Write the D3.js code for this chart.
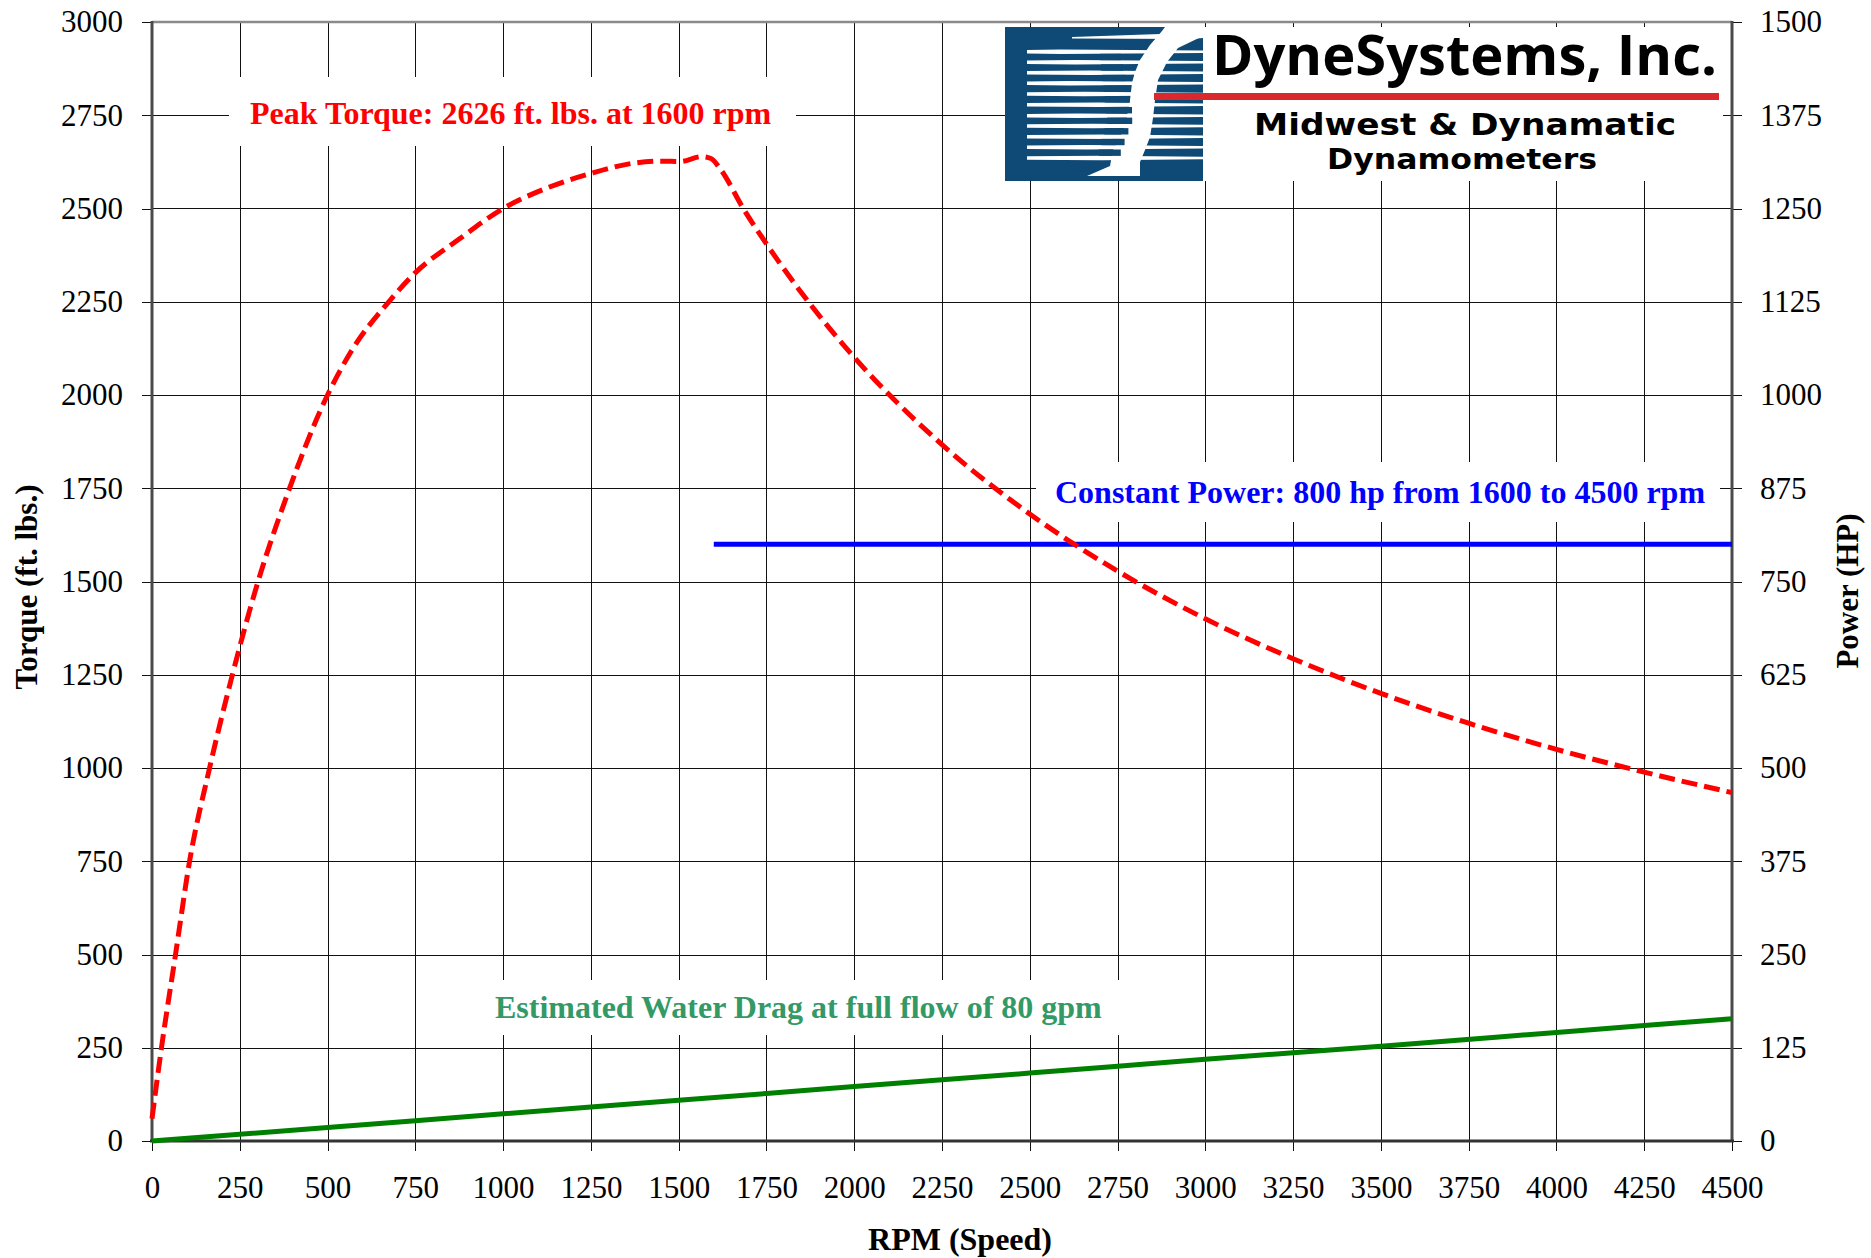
<!DOCTYPE html>
<html>
<head>
<meta charset="utf-8">
<script src="https://cdn.jsdelivr.net/npm/d3@7/dist/d3.min.js"></script>
<style>
  html, body { margin: 0; padding: 0; background: #fff; }
  svg { display: block; }
</style>
</head>
<body>
<svg id="chart" width="1871" height="1258"></svg>
<script>
// ---------------- DATA ----------------
const rpmTicks = [0,250,500,750,1000,1250,1500,1750,2000,2250,2500,2750,3000,3250,3500,3750,4000,4250,4500];
const torqueTicks = [0,250,500,750,1000,1250,1500,1750,2000,2250,2500,2750,3000];
const powerTicks = [0,125,250,375,500,625,750,875,1000,1125,1250,1375,1500];

// Peak torque curve (red dashed)
const torqueRpm    = [0, 27, 67, 107, 164, 229, 302, 383, 500, 564, 678, 748, 875, 1000, 1125, 1250, 1375, 1450, 1505, 1565, 1592, 1620, 1684, 1750, 1875, 2000, 2250, 2500, 2750, 3000, 3250, 3500, 3750, 4000, 4250, 4500];
const torqueValues = [60, 250, 500, 750, 1000, 1250, 1500, 1727, 2000, 2112, 2254, 2326, 2418, 2500, 2555, 2594, 2622, 2627, 2626, 2639, 2634, 2604, 2500, 2405, 2243, 2101, 1867, 1681, 1528, 1400, 1293, 1200, 1120, 1050, 989, 934];

// Estimated water drag (green), torque units
const dragRpm    = [0, 500, 1000, 1500, 2000, 2500, 3000, 3500, 4000, 4500];
const dragValues = [0, 36, 73, 109, 146, 182, 219, 254, 291, 328];

// Constant power (blue), HP on right axis
const constPowerRpm = [1600, 4500];
const constPowerHp  = [800, 800];

const labels = {
  peak: "Peak Torque: 2626 ft. lbs. at 1600 rpm",
  power: "Constant Power: 800 hp from 1600 to 4500 rpm",
  drag: "Estimated Water Drag at full flow of 80 gpm",
  xTitle: "RPM (Speed)",
  yLeftTitle: "Torque (ft. lbs.)",
  yRightTitle: "Power (HP)"
};

// ---------------- LAYOUT ----------------
const L = 152, R = 1732, T = 22, B = 1141;
const serif = "'Liberation Serif', 'Times New Roman', serif";
const sans = "'Open Sans', 'DejaVu Sans', sans-serif";
const wideSans = "'DejaVu Sans', 'Open Sans', sans-serif";

const svg = d3.select("#chart");
svg.append("rect").attr("width", 1871).attr("height", 1258).attr("fill", "#fff");

const x  = d3.scaleLinear().domain([0, 4500]).range([L, R]);
const yT = d3.scaleLinear().domain([0, 3000]).range([B, T]);
const yP = d3.scaleLinear().domain([0, 1500]).range([B, T]);

// ---- gridlines ----
const grid = svg.append("g").attr("shape-rendering", "crispEdges");
grid.selectAll("line.v").data(rpmTicks.filter(d => d > 0 && d < 4500)).join("line")
  .attr("x1", d => Math.round(x(d)) + 0.5).attr("x2", d => Math.round(x(d)) + 0.5)
  .attr("y1", T).attr("y2", B)
  .attr("stroke", "#111").attr("stroke-width", 1);
grid.selectAll("line.h").data(torqueTicks.filter(d => d > 0 && d < 3000)).join("line")
  .attr("x1", L).attr("x2", R)
  .attr("y1", d => Math.round(yT(d)) + 0.5).attr("y2", d => Math.round(yT(d)) + 0.5)
  .attr("stroke", "#111").attr("stroke-width", 1);

// ---- axes ----
function styleAxis(g) {
  g.select(".domain").remove();
  g.selectAll(".tick line").attr("stroke", "#111").attr("stroke-width", 1).attr("shape-rendering", "crispEdges");
  g.selectAll(".tick text").attr("font-family", serif).attr("font-size", 31).attr("fill", "#000");
}
svg.append("g").attr("transform", `translate(${L},0)`)
  .call(d3.axisLeft(yT).tickValues(torqueTicks).tickSize(10).tickPadding(19).tickFormat(d3.format("d")))
  .call(styleAxis);
svg.append("g").attr("transform", `translate(${R},0)`)
  .call(d3.axisRight(yP).tickValues(powerTicks).tickSize(10).tickPadding(18).tickFormat(d3.format("d")))
  .call(styleAxis);
svg.append("g").attr("transform", `translate(0,${B})`)
  .call(d3.axisBottom(x).tickValues(rpmTicks).tickSize(10).tickPadding(25).tickFormat(d3.format("d")))
  .call(styleAxis);

// ---- annotation boxes (white, interrupt grid) ----
const boxes = [
  {x0: 229, x1: 796, y0: 77, y1: 146},
  {x0: 1036, x1: 1720, y0: 462, y1: 522},
  {x0: 476, x1: 1124, y0: 980, y1: 1035}
];
svg.append("g").selectAll("rect").data(boxes).join("rect")
  .attr("x", d => d.x0).attr("y", d => d.y0)
  .attr("width", d => d.x1 - d.x0).attr("height", d => d.y1 - d.y0)
  .attr("fill", "#fff");

// ---- logo ----
const logo = svg.append("g");
logo.append("rect").attr("x", 1005).attr("y", 27).attr("width", 718).attr("height", 154).attr("fill", "#fff");
logo.append("rect").attr("x", 1005).attr("y", 27).attr("width", 198).attr("height", 154).attr("fill", "#0f4a76");
const streakRows = [51.7, 62.3, 72.7, 83.3, 94, 104.7, 115.7, 126, 136.7, 147.3, 158];
logo.selectAll("path.streak").data(streakRows).join("path")
  .attr("d", (d, i) => {
    const xs = 1027, xe = 1203;
    const mid = 1060 + (i % 3) * 12 + i * 3;
    return `M${xs},${d - 1.8} L${mid},${d - 2.2} L${xe},${d - 1.2} L${xe},${d + 1.2} L${mid},${d + 2.2} L${xs},${d + 1.8} Z`;
  })
  .attr("fill", "#fff");
logo.append("path")
  .attr("d", "M1072,37 L1190,33 L1203,31 L1203,38 L1190,39 L1072,38.5 Z")
  .attr("fill", "#fff");
logo.append("path")
  .attr("d", "M1165,27 L1203,27 L1203,36 L1178,48 L1167,62 L1158,80 L1155,100 L1153,118 L1150,137 L1145,150 L1140,162 L1140,176 L1087,176 L1110,166 L1113,150 L1120,137 L1125,126 L1127,116 L1130,100 L1132,83 L1135,72 L1140,60 L1150,45 L1162,31 Z")
  .attr("fill", "#fff");
const blockRows = [57, 67.5, 78, 88.7, 99.3, 110.2, 120.8, 131.3, 142, 152.7];
logo.selectAll("rect.blk").data(blockRows).join("rect")
  .attr("x", (d, i) => 1100 + i * 1.2 - (i > 6 ? (i - 6) * 4 : 0))
  .attr("y", d => d - 3.2)
  .attr("width", (d, i) => 26 - Math.abs(i - 5))
  .attr("height", 6.4)
  .attr("fill", "#0f4a76");
logo.append("text").attr("x", 1212).attr("y", 75)
  .attr("font-family", sans).attr("font-weight", 700)
  .attr("font-size", 56).attr("textLength", 505).attr("lengthAdjust", "spacingAndGlyphs")
  .attr("fill", "#000").text("DyneSystems, Inc.");
logo.append("rect").attr("x", 1154).attr("y", 93).attr("width", 565).attr("height", 7).attr("fill", "#d9282e");
logo.append("text").attr("x", 1254).attr("y", 135)
  .attr("font-family", wideSans).attr("font-weight", 700).attr("font-size", 31)
  .attr("textLength", 422).attr("lengthAdjust", "spacingAndGlyphs")
  .attr("fill", "#000").text("Midwest & Dynamatic");
logo.append("text").attr("x", 1327).attr("y", 169)
  .attr("font-family", wideSans).attr("font-weight", 700).attr("font-size", 28)
  .attr("textLength", 270).attr("lengthAdjust", "spacingAndGlyphs")
  .attr("fill", "#000").text("Dynamometers");

// ---- axis frame lines ----
const frame = svg.append("g");
frame.append("line").attr("x1", L).attr("x2", R).attr("y1", T).attr("y2", T).attr("stroke", "#8a8a8a").attr("stroke-width", 2.5);
frame.append("line").attr("x1", L).attr("x2", L).attr("y1", T - 1).attr("y2", B + 1).attr("stroke", "#4a4a4a").attr("stroke-width", 3);
frame.append("line").attr("x1", R).attr("x2", R).attr("y1", T - 1).attr("y2", B + 1).attr("stroke", "#4a4a4a").attr("stroke-width", 3);
frame.append("line").attr("x1", L - 2).attr("x2", R + 2).attr("y1", B).attr("y2", B).attr("stroke", "#333").attr("stroke-width", 3);

// ---- series ----
const torqueData = torqueRpm.map((r, i) => ({r, v: torqueValues[i]}));
const dragData = dragRpm.map((r, i) => ({r, v: dragValues[i]}));
const powerData = constPowerRpm.map((r, i) => ({r, v: constPowerHp[i]}));

svg.append("path").datum(dragData)
  .attr("d", d3.line().x(d => x(d.r)).y(d => yT(d.v)).curve(d3.curveMonotoneX))
  .attr("fill", "none").attr("stroke", "#008000").attr("stroke-width", 5);

svg.append("path").datum(powerData)
  .attr("d", d3.line().x(d => x(d.r)).y(d => yP(d.v)))
  .attr("fill", "none").attr("stroke", "#0000ff").attr("stroke-width", 5);

svg.append("path").datum(torqueData)
  .attr("d", d3.line().x(d => x(d.r)).y(d => yT(d.v)).curve(d3.curveMonotoneX))
  .attr("fill", "none").attr("stroke", "#ff0000").attr("stroke-width", 5)
  .attr("stroke-dasharray", "16,7");

// ---- annotation texts ----
svg.append("text").attr("x", 250).attr("y", 124)
  .attr("font-family", serif).attr("font-weight", "bold").attr("font-size", 32)
  .attr("fill", "#ff0000").text(labels.peak);
svg.append("text").attr("x", 1055).attr("y", 503)
  .attr("font-family", serif).attr("font-weight", "bold").attr("font-size", 32)
  .attr("fill", "#0000ff").text(labels.power);
svg.append("text").attr("x", 495).attr("y", 1018)
  .attr("font-family", serif).attr("font-weight", "bold").attr("font-size", 32)
  .attr("fill", "#339966").text(labels.drag);

// ---- axis titles ----
svg.append("text").attr("x", 960).attr("y", 1250).attr("text-anchor", "middle")
  .attr("font-family", serif).attr("font-weight", "bold").attr("font-size", 32)
  .attr("fill", "#000").text(labels.xTitle);
svg.append("text").attr("transform", "translate(37,587) rotate(-90)").attr("text-anchor", "middle")
  .attr("font-family", serif).attr("font-weight", "bold").attr("font-size", 31)
  .attr("fill", "#000").text(labels.yLeftTitle);
svg.append("text").attr("transform", "translate(1858,591) rotate(-90)").attr("text-anchor", "middle")
  .attr("font-family", serif).attr("font-weight", "bold").attr("font-size", 31)
  .attr("fill", "#000").text(labels.yRightTitle);
</script>
</body>
</html>
